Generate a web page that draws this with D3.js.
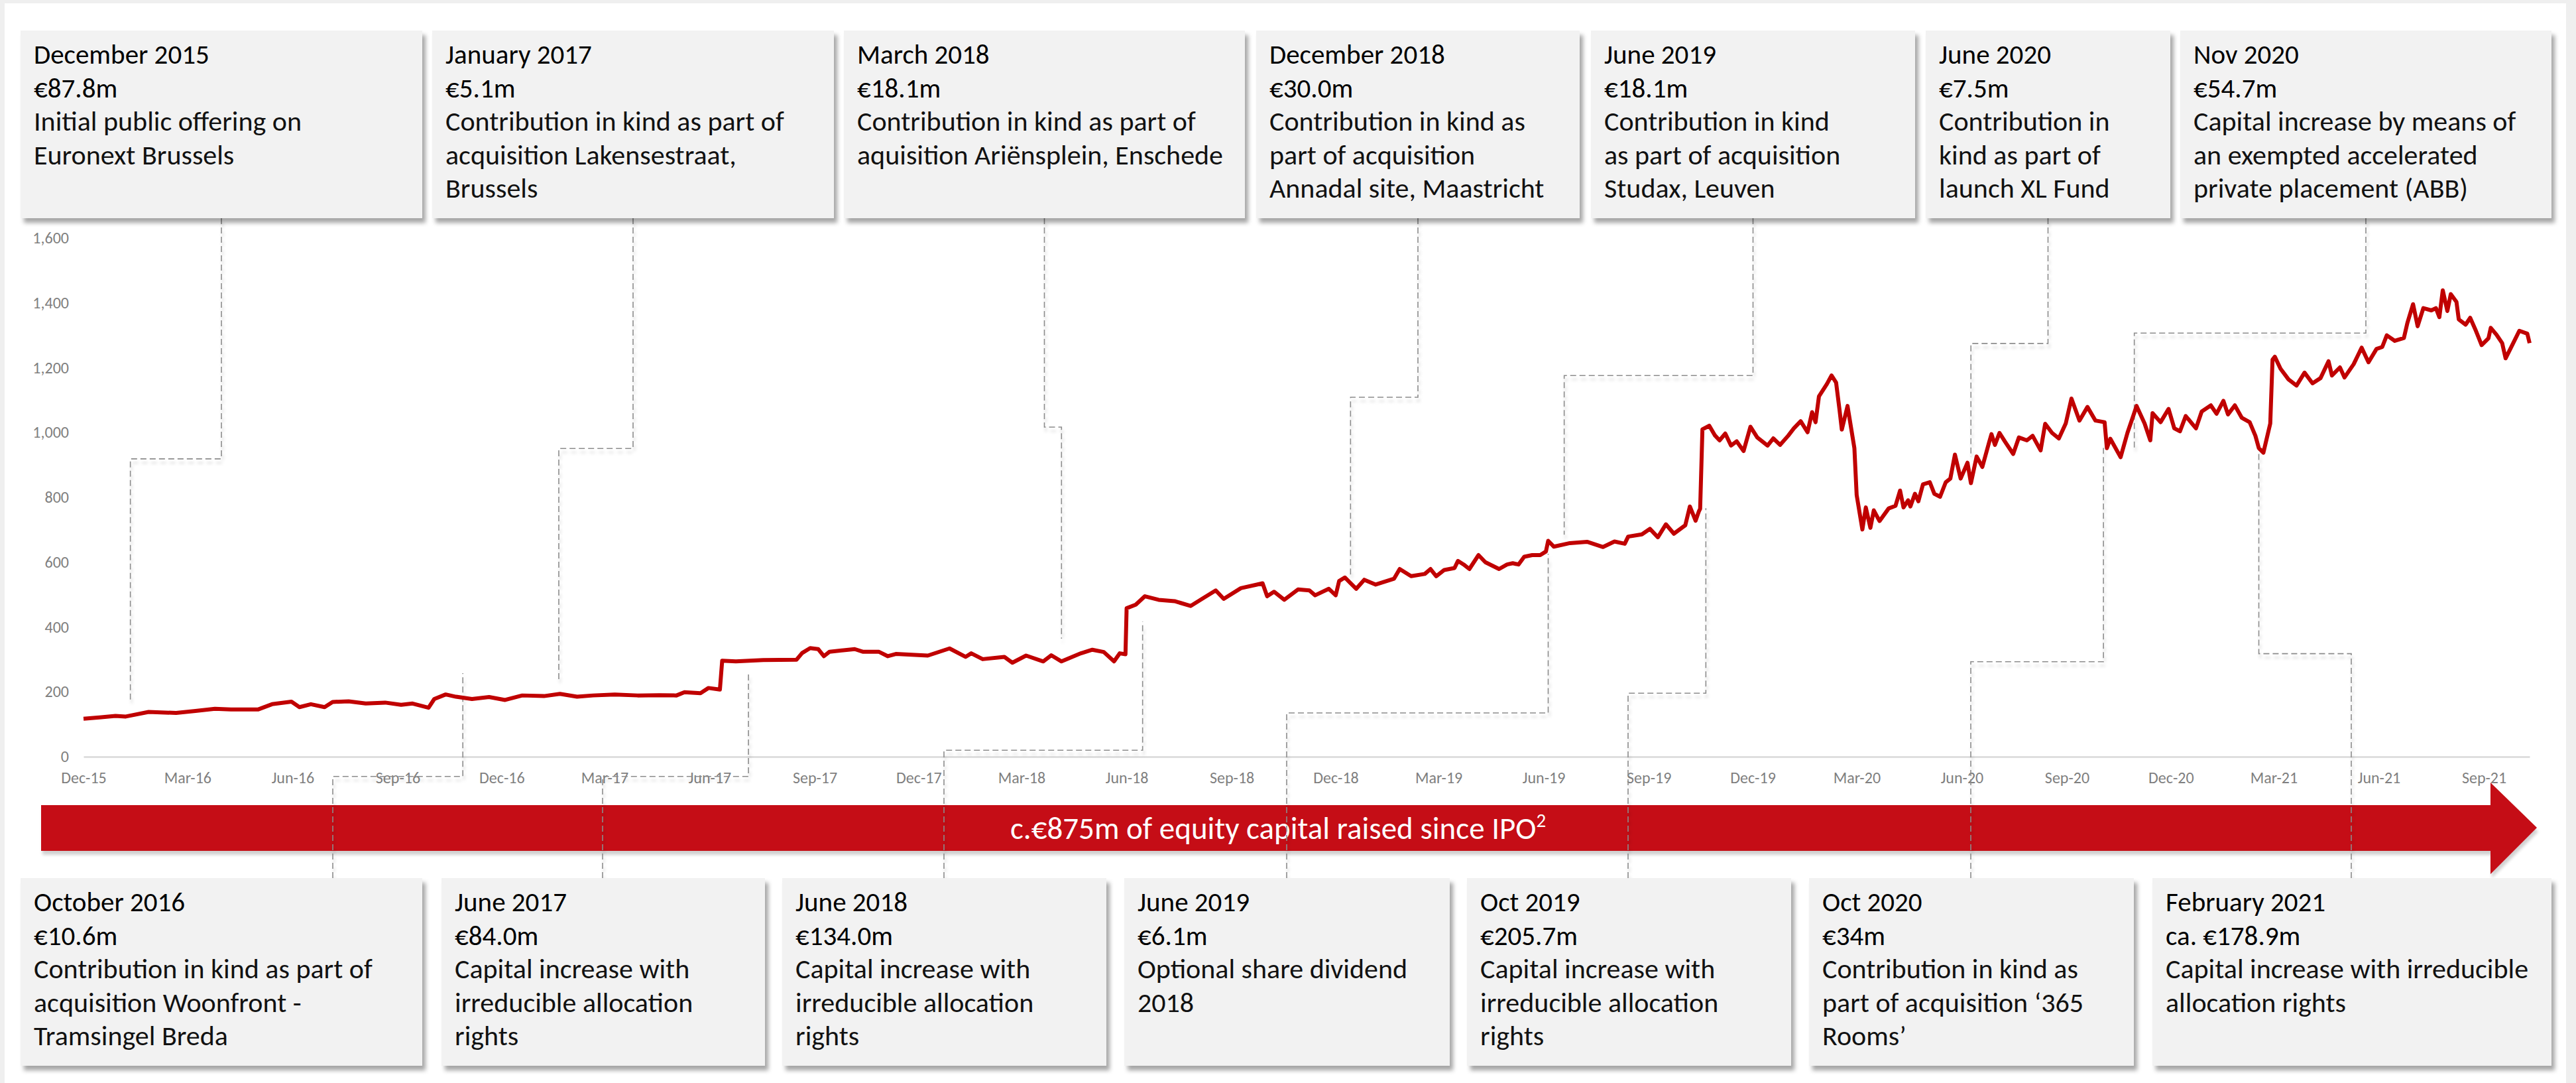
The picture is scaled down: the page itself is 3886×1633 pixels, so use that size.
<!DOCTYPE html>
<meta charset="utf-8">
<style>
body { margin: 0; background: #efefef; }
text { font-family: Calibri, Carlito, Lato, sans-serif; }
.axis text { fill: #7f7f7f; font-size: 24px; }
.axis .domain { stroke: #d9d9d9; stroke-width: 2.5; }
.box-title { font-size: 41px; fill: #000; }
.box-body { font-size: 42px; font-weight: 300; fill: #111; }
.connector { fill: none; stroke: #8c8c8c; stroke-width: 1.6; stroke-dasharray: 9 5; }
</style>
<body>
<script src="https://d3js.org/d3.v7.min.js"></script>
<script>

const width = 3886,
    height = 1633

// market capitalisation in EUR m
const dates = [
  "2015-12-01","2015-12-15","2015-12-29","2016-01-07","2016-01-27","2016-02-20","2016-03-08","2016-03-25",
  "2016-04-08","2016-05-02","2016-05-14","2016-05-31","2016-06-07","2016-06-17","2016-06-29","2016-07-06",
  "2016-07-20","2016-08-04","2016-08-21","2016-09-04","2016-09-14","2016-09-28","2016-10-03","2016-10-13",
  "2016-10-22","2016-11-05","2016-11-20","2016-12-04","2016-12-19","2017-01-07","2017-01-21","2017-02-05",
  "2017-02-19","2017-03-10","2017-03-30","2017-04-18","2017-05-03","2017-05-10","2017-05-24","2017-05-31",
  "2017-06-10","2017-06-12","2017-06-24","2017-07-18","2017-08-16","2017-08-21","2017-08-28","2017-09-04",
  "2017-09-09","2017-09-14","2017-10-06","2017-10-13","2017-10-27","2017-11-04","2017-11-11","2017-12-09",
  "2017-12-28","2018-01-11","2018-01-16","2018-01-26","2018-02-14","2018-02-21","2018-03-05","2018-03-20",
  "2018-03-27","2018-04-05","2018-04-22","2018-05-02","2018-05-12","2018-05-21","2018-05-26","2018-05-31",
  "2018-06-01","2018-06-09","2018-06-17","2018-06-29","2018-07-13","2018-07-27","2018-08-06","2018-08-18",
  "2018-08-25","2018-09-09","2018-09-23","2018-09-28","2018-10-02","2018-10-08","2018-10-17","2018-10-29",
  "2018-11-08","2018-11-13","2018-11-25","2018-12-01","2018-12-04","2018-12-09","2018-12-19","2018-12-26",
  "2019-01-05","2019-01-21","2019-01-26","2019-02-05","2019-02-17","2019-02-22","2019-02-27","2019-03-06",
  "2019-03-15","2019-03-18","2019-03-23","2019-03-28","2019-04-05","2019-04-11","2019-04-23","2019-04-30",
  "2019-05-05","2019-05-10","2019-05-15","2019-05-22","2019-05-29","2019-06-03","2019-06-05","2019-06-10",
  "2019-06-24","2019-07-09","2019-07-23","2019-08-02","2019-08-11","2019-08-14","2019-08-26","2019-09-02",
  "2019-09-09","2019-09-16","2019-09-23","2019-10-03","2019-10-07","2019-10-12","2019-10-15","2019-10-16",
  "2019-10-18","2019-10-24","2019-10-29","2019-11-02","2019-11-07","2019-11-12","2019-11-17","2019-11-23",
  "2019-11-29","2019-12-05","2019-12-14","2019-12-19","2019-12-25","2020-01-01","2020-01-06","2020-01-12",
  "2020-01-18","2020-01-22","2020-01-25","2020-01-28","2020-02-04","2020-02-08","2020-02-12","2020-02-15",
  "2020-02-17","2020-02-22","2020-02-28","2020-03-01","2020-03-06","2020-03-09","2020-03-13","2020-03-16",
  "2020-03-21","2020-03-29","2020-04-04","2020-04-08","2020-04-11","2020-04-15","2020-04-17","2020-04-21",
  "2020-04-24","2020-04-28","2020-05-04","2020-05-08","2020-05-13","2020-05-18","2020-05-22","2020-05-26",
  "2020-05-31","2020-06-06","2020-06-09","2020-06-14","2020-06-19","2020-06-25","2020-06-27","2020-06-30",
  "2020-07-04","2020-07-09","2020-07-16","2020-07-21","2020-07-28","2020-08-02","2020-08-09","2020-08-13",
  "2020-08-19","2020-08-25","2020-08-31","2020-09-05","2020-09-12","2020-09-19","2020-09-26","2020-10-04",
  "2020-10-06","2020-10-09","2020-10-18","2020-10-24","2020-11-01","2020-11-08","2020-11-13","2020-11-15",
  "2020-11-22","2020-11-29","2020-12-04","2020-12-09","2020-12-14","2020-12-23","2020-12-28","2021-01-05",
  "2021-01-10","2021-01-16","2021-01-20","2021-01-26","2021-02-01","2021-02-08","2021-02-13","2021-02-16",
  "2021-02-20","2021-02-26","2021-02-28","2021-03-02","2021-03-07","2021-03-14","2021-03-21","2021-03-28",
  "2021-04-04","2021-04-11","2021-04-18","2021-04-21","2021-04-28","2021-05-02","2021-05-10","2021-05-17",
  "2021-05-23","2021-05-30","2021-06-04","2021-06-08","2021-06-15","2021-06-23","2021-06-26","2021-07-01",
  "2021-07-05","2021-07-10","2021-07-17","2021-07-21","2021-07-24","2021-07-27","2021-07-31","2021-08-03",
  "2021-08-08","2021-08-10","2021-08-16","2021-08-20","2021-08-25","2021-08-30","2021-09-05","2021-09-07",
  "2021-09-12","2021-09-17","2021-09-20","2021-09-25","2021-10-02","2021-10-09","2021-10-11"
]
const marketCap = [
  117,121,126,124,138,135,141,148,
  146,146,162,170,153,162,153,169,
  171,164,167,160,164,151,178,192,
  185,178,184,175,189,187,194,185,
  189,192,189,190,189,199,196,212,
  207,296,294,298,299,320,335,332,
  310,324,332,324,324,310,317,312,
  334,308,319,301,308,290,312,294,
  313,294,319,330,323,294,319,316,
  458,469,495,484,480,465,487,513,
  487,520,531,535,495,509,484,516,
  513,498,518,498,542,553,518,546,
  531,549,579,557,564,579,557,576,
  582,604,593,579,622,600,579,593,
  597,593,617,622,622,633,666,648,
  659,663,647,664,657,679,686,703,
  677,717,688,714,772,728,758,765,
  1010,1021,991,976,997,960,973,943,
  1018,985,960,982,962,990,1013,1035,
  1001,1063,1032,1112,1150,1176,1154,1070,
  1009,1082,952,807,701,769,706,760,
  727,766,774,821,769,791,772,811,
  788,840,847,811,802,847,858,932,
  858,907,844,926,894,971,995,962,
  999,971,934,985,976,990,945,1027,
  999,982,1028,1105,1037,1079,1037,1032,
  952,981,924,999,1082,1028,976,1060,
  1032,1073,1013,1004,1051,1013,1065,1084,
  1058,1098,1056,1084,1046,1032,990,952,
  938,1028,1225,1234,1197,1164,1145,1185,
  1152,1168,1220,1176,1201,1170,1211,1262,
  1217,1258,1264,1300,1283,1292,1338,1396,
  1328,1384,1377,1384,1356,1439,1375,1427,
  1403,1349,1333,1354,1314,1270,1291,1323,
  1302,1276,1229,1264,1314,1305,1276
]

const xTickLabels = ["Dec-15","Mar-16","Jun-16","Sep-16","Dec-16","Mar-17","Jun-17","Sep-17",
  "Dec-17","Mar-18","Jun-18","Sep-18","Dec-18","Mar-19","Jun-19","Sep-19",
  "Dec-19","Mar-20","Jun-20","Sep-20","Dec-20","Mar-21","Jun-21","Sep-21"]
const yTicks = [0, 200, 400, 600, 800, 1000, 1200, 1400, 1600]

// capital events shown above the chart
const topTitles = ["December 2015", "January 2017", "March 2018", "December 2018", "June 2019", "June 2020", "Nov 2020"]
const topAmounts = ["€87.8m", "€5.1m", "€18.1m", "€30.0m", "€18.1m", "€7.5m", "€54.7m"]
const topTexts = [
  ["Initial public offering on", "Euronext Brussels"],
  ["Contribution in kind as part of", "acquisition Lakensestraat,", "Brussels"],
  ["Contribution in kind as part of", "aquisition Ariënsplein, Enschede"],
  ["Contribution in kind as", "part of acquisition", "Annadal site, Maastricht"],
  ["Contribution in kind", "as part of acquisition", "Studax, Leuven"],
  ["Contribution in", "kind as part of", "launch XL Fund"],
  ["Capital increase by means of", "an exempted accelerated", "private placement (ABB)"]
]
// connector: date where it drops to the line, level of the elbow, level where it stops
const topDates = ["2016-01-11", "2017-01-20", "2018-04-05", "2018-12-14", "2019-06-19", "2020-06-09", "2020-10-30"]
const topElbows = [919, 951, 1017, 1109, 1176, 1275, 1307]
const topEnds = [176, 237, 364, 552, 685, 925, 947]

// capital events shown below the chart
const bottomTitles = ["October 2016", "June 2017", "June 2018", "June 2019", "Oct 2019", "Oct 2020", "February 2021"]
const bottomAmounts = ["€10.6m", "€84.0m", "€134.0m", "€6.1m", "€205.7m", "€34m", "ca. €178.9m"]
const bottomTexts = [
  ["Contribution in kind as part of", "acquisition Woonfront -", "Tramsingel Breda"],
  ["Capital increase with", "irreducible allocation", "rights"],
  ["Capital increase with", "irreducible allocation", "rights"],
  ["Optional share dividend", "2018"],
  ["Capital increase with", "irreducible allocation", "rights"],
  ["Contribution in kind as", "part of acquisition ‘365", "Rooms’"],
  ["Capital increase with irreducible", "allocation rights"]
]
const bottomDates = ["2016-10-28", "2017-07-05", "2018-06-15", "2019-06-05", "2019-10-21", "2020-10-03", "2021-02-16"]
const bottomElbows = [-61, -61, 20, 135, 196, 293, 318]
const bottomEnds = [258, 258, 417, 626, 767, 953, 952]

const arrowLabel = "c.€875m of equity capital raised since IPO"

// layout
const topBoxes = [[31, 637], [652, 1258], [1273, 1878], [1895, 2383], [2400, 2889], [2905, 3274], [3289, 3849]]
const bottomBoxes = [[31, 637], [666, 1154], [1180, 1669], [1696, 2187], [2213, 2702], [2729, 3219], [3247, 3849]]
const bottomAnchors = [502, 909, 1424, 1941, 2456, 2973, 3547]
const topBoxY = 46, bottomBoxY = 1324, boxH = 283

var parseDate = d3.timeParse("%Y-%m-%d")
var series = dates.map(function (d, i) { return { date: parseDate(d), value: marketCap[i] } })

var svg = d3.select('body')
    .append('svg')
    .attr('width', width)
    .attr('height', height)

var defs = svg.append('defs')
defs.append('filter').attr('id', 'shadow')
    .attr('x', '-5%').attr('y', '-5%').attr('width', '115%').attr('height', '120%')
  .append('feDropShadow')
    .attr('dx', 5).attr('dy', 7).attr('stdDeviation', 3)
    .attr('flood-color', '#000').attr('flood-opacity', 0.35)
defs.append('filter').attr('id', 'softshadow')
    .attr('x', '-20%').attr('y', '-20%').attr('width', '140%').attr('height', '140%')
  .append('feDropShadow')
    .attr('dx', 2).attr('dy', 6).attr('stdDeviation', 2)
    .attr('flood-color', '#000').attr('flood-opacity', 0.18)

svg.append('rect')
    .attr('x', 7).attr('y', 5)
    .attr('width', 3864).attr('height', height - 5)
    .attr('fill', '#fff')

var x = d3.scaleTime()
    .domain(d3.extent(series, function (d) { return d.date }))
    .range([126, 3816])

var y = d3.scaleLinear()
    .domain([0, 1600])
    .range([1141, 359])

var parseTick = d3.timeParse("%b-%y")

svg.append('g')
    .attr('class', 'axis')
    .attr('transform', 'translate(0,' + y(0) + ')')
    .call(d3.axisBottom(x)
        .tickValues(xTickLabels.map(parseTick))
        .tickFormat(d3.timeFormat("%b-%y"))
        .tickSize(0)
        .tickPadding(23))

svg.append('g')
    .attr('class', 'axis')
    .attr('transform', 'translate(' + x.range()[0] + ',0)')
    .call(d3.axisLeft(y)
        .tickValues(yTicks)
        .tickFormat(d3.format(","))
        .tickSize(0)
        .tickPadding(22))
    .call(function (g) { g.select('.domain').remove() })

// big arrow
var arrow = d3.path()
arrow.moveTo(62, 1214)
arrow.lineTo(3757, 1214)
arrow.lineTo(3757, 1180)
arrow.lineTo(3827, 1248)
arrow.lineTo(3757, 1318)
arrow.lineTo(3757, 1283)
arrow.lineTo(62, 1283)
arrow.closePath()

svg.append('path')
    .attr('d', arrow.toString())
    .attr('fill', '#c50d12')
    .attr('filter', 'url(#softshadow)')

var label = svg.append('text')
    .attr('x', 1928)
    .attr('y', 1265)
    .attr('text-anchor', 'middle')
    .attr('fill', '#fff')
    .style('font-size', '47px')
    .text(arrowLabel)
label.append('tspan')
    .attr('dy', -18)
    .style('font-size', '29px')
    .text('2')

// dashed connectors
var connectors = svg.append('g').attr('filter', 'url(#softshadow)')

topBoxes.forEach(function (b, i) {
    var p = d3.path()
    p.moveTo((b[0] + b[1]) / 2, topBoxY + boxH)
    p.lineTo((b[0] + b[1]) / 2, y(topElbows[i]))
    p.lineTo(x(parseDate(topDates[i])), y(topElbows[i]))
    p.lineTo(x(parseDate(topDates[i])), y(topEnds[i]))
    connectors.append('path').attr('class', 'connector').attr('d', p.toString())
})

bottomBoxes.forEach(function (b, i) {
    var p = d3.path()
    p.moveTo(bottomAnchors[i], bottomBoxY)
    p.lineTo(bottomAnchors[i], y(bottomElbows[i]))
    p.lineTo(x(parseDate(bottomDates[i])), y(bottomElbows[i]))
    p.lineTo(x(parseDate(bottomDates[i])), y(bottomEnds[i]))
    connectors.append('path').attr('class', 'connector').attr('d', p.toString())
})

// market cap line
svg.append('path')
    .datum(series)
    .attr('fill', 'none')
    .attr('stroke', '#c00000')
    .attr('stroke-width', 6)
    .attr('stroke-linejoin', 'round')
    .attr('d', d3.line()
        .x(function (d) { return x(d.date) })
        .y(function (d) { return y(d.value) }))

// event boxes
function drawBoxes(boxes, top, titles, amounts, texts) {
    var g = svg.append('g')
        .selectAll('g')
        .data(boxes)
        .enter().append('g')
        .attr('transform', function (d) { return 'translate(' + d[0] + ',' + top + ')' })

    g.append('rect')
        .attr('width', function (d) { return d[1] - d[0] })
        .attr('height', boxH)
        .attr('fill', '#f2f2f2')
        .attr('filter', 'url(#shadow)')

    g.append('text')
        .attr('class', 'box-title')
        .attr('x', 20).attr('y', 50)
        .text(function (d, i) { return titles[i] })

    g.append('text')
        .attr('class', 'box-title')
        .attr('x', 20).attr('y', 100.5)
        .text(function (d, i) { return amounts[i] })

    g.each(function (d, i) {
        d3.select(this).selectAll('.box-body')
            .data(texts[i])
            .enter().append('text')
            .attr('class', 'box-body')
            .attr('x', 20)
            .attr('y', function (t, j) { return 151 + j * 50.5 })
            .text(function (t) { return t })
    })
}

drawBoxes(topBoxes, topBoxY, topTitles, topAmounts, topTexts)
drawBoxes(bottomBoxes, bottomBoxY, bottomTitles, bottomAmounts, bottomTexts)

</script>
</body>
